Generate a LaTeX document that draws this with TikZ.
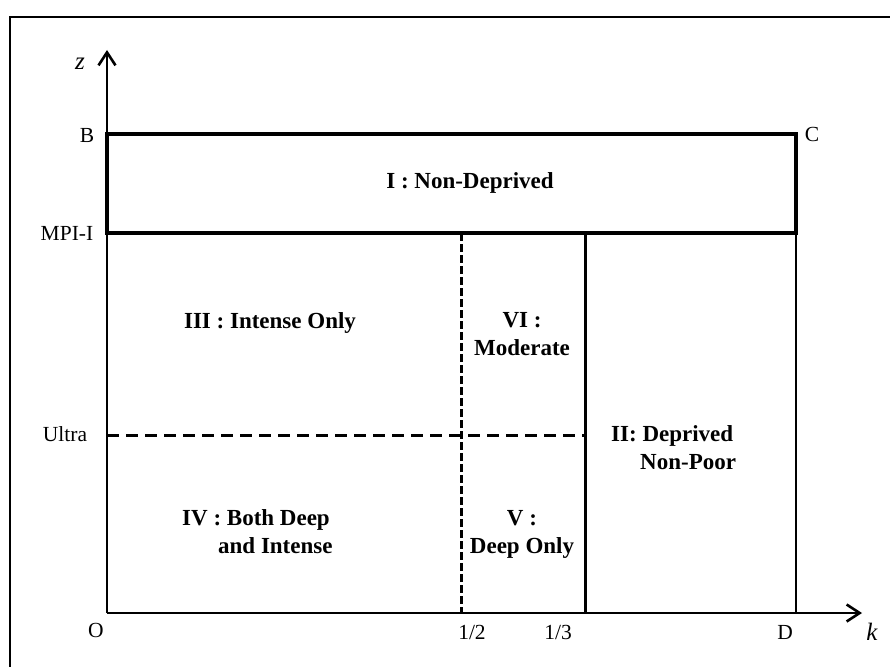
\documentclass[tikz,border=0pt]{standalone}
\usepackage{fontspec}
\setmainfont{Liberation Serif}
\usetikzlibrary{arrows.meta}
\tikzset{
  axisline/.style={line width=2pt, -{Straight Barb[length=13pt,width=17pt,line width=2.6pt]}},
  boxline/.style={line width=3.6pt},
  thinline/.style={line width=2pt},
  midline/.style={line width=3pt},
  dashline/.style={line width=3pt, dash pattern=on 12pt off 7pt},
  vdashline/.style={line width=3pt, dash pattern=on 8pt off 3pt},
  ticklabel/.style={font=\fontsize{21.5}{26}\selectfont, inner sep=0pt},
  varlabel/.style={font=\fontsize{25}{30}\selectfont\itshape, inner sep=0pt},
  region/.style={font=\fontsize{23}{28}\selectfont\bfseries, inner sep=0pt},
}
\begin{document}
\begin{tikzpicture}[x=1pt,y=-1pt]
\useasboundingbox (0,0) rectangle (890,666);
% outer frame
\coordinate (fb) at (10,667);
\coordinate (ftl) at (10,17);
\coordinate (fr) at (891,17);
\draw[line width=2.5pt] (fb) -- (ftl) -- (fr);

% key points
\coordinate (O) at (107,613);
\coordinate (ztop) at (107,50);
\coordinate (kend) at (862,613);
\coordinate (B) at (107,134);
\coordinate (C) at (796,134);
\coordinate (M) at (107,233);
\coordinate (MR) at (796,233);
\coordinate (D) at (796,613);
\coordinate (H1) at (461,233);
\coordinate (H0) at (461,613);
\coordinate (T1) at (585,233);
\coordinate (T0) at (585,613);
\coordinate (U0) at (107,435);
\coordinate (U1) at (585,435);

% axes
\draw[axisline] (O) -- (ztop);
\draw[axisline] (O) -- (kend);

% inner lines
\draw[thinline] (MR) -- (D);
\draw[midline] (T1) -- (T0);
\draw[vdashline] (H1) -- (H0);
\draw[dashline] (U0) -- (U1);

% box I
\draw[boxline] (M) -- (B) -- (C) -- (MR) -- cycle;

% axis labels
\node[varlabel, anchor=base] (zl) at (80,70) {z};
\node[varlabel, anchor=base] (kl) at (872,640) {k};
\node[ticklabel, anchor=base] (Bl) at (87,142) {B};
\node[ticklabel, anchor=base] (Cl) at (812,141) {C};
\node[ticklabel, anchor=base] (Ml) at (67,240) {MPI-I};
\node[ticklabel, anchor=base] (Ul) at (65,441) {Ultra};
\node[ticklabel, anchor=base] (Ol) at (96,637) {O};
\node[ticklabel, anchor=base] (hl) at (472,639) {1/2};
\node[ticklabel, anchor=base] (tl) at (558,639) {1/3};
\node[ticklabel, anchor=base] (Dl) at (785,639) {D};

% region labels
\node[region, anchor=base] (r1) at (470,188) {I : Non-Deprived};
\node[region, anchor=base] (r3) at (270,328) {III : Intense Only};
\node[region, anchor=north, align=center] (r6) at (522,312) {VI :\\Moderate};
\node[region, anchor=north, align=center] (r5) at (522,510) {V :\\Deep Only};
\node[region, anchor=north west, align=left] (r4) at (182,509) {IV : Both Deep\\\hspace*{36pt}and Intense};
\node[region, anchor=north west, align=left] (r2) at (611,425) {II: Deprived\\\hspace*{29pt}Non-Poor};
\end{tikzpicture}
\end{document}
